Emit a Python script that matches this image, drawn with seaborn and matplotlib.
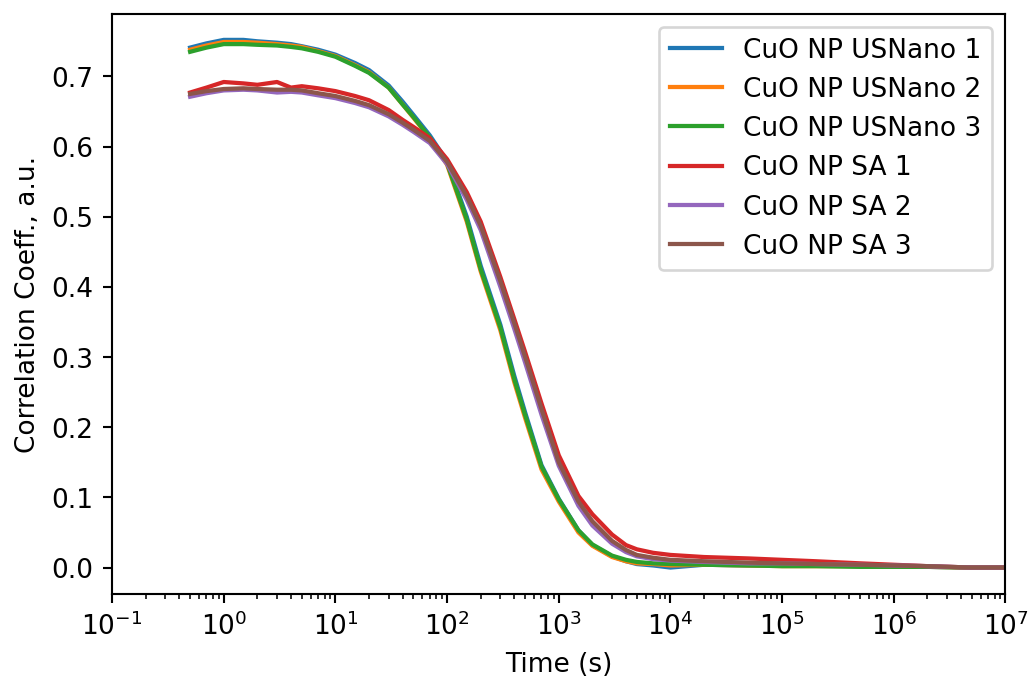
import matplotlib
matplotlib.use("Agg")
import matplotlib.pyplot as plt
import pandas as pd
import seaborn as sns

# Zeitpunkte (s) und Korrelationskoeffizienten
time_s = [0.5, 0.7, 1, 1.5, 2, 3, 4, 5, 7, 10, 15, 20, 30, 40, 50, 70,
          100, 150, 200, 300, 400, 500, 700, 1000, 1500, 2000, 3000, 4000,
          5000, 7000, 1e4, 2e4, 5e4, 1e5, 2e5, 5e5, 1e6, 2e6, 5e6, 1e7]

usnano_1 = [0.741, 0.747, 0.752, 0.752, 0.750, 0.748, 0.746, 0.743, 0.738, 0.731,
            0.719, 0.709, 0.687, 0.664, 0.645, 0.616, 0.579, 0.500, 0.430, 0.346,
            0.273, 0.221, 0.146, 0.098, 0.053, 0.032, 0.016, 0.009, 0.005, 0.003,
            0.000, 0.004, 0.003, 0.003, 0.003, 0.002, 0.002, 0.001, 0.000, 0.000]
usnano_2 = [0.738, 0.744, 0.749, 0.749, 0.748, 0.746, 0.744, 0.742, 0.736, 0.729,
            0.716, 0.706, 0.684, 0.660, 0.641, 0.612, 0.574, 0.493, 0.422, 0.338,
            0.264, 0.213, 0.140, 0.094, 0.050, 0.031, 0.015, 0.009, 0.006, 0.005,
            0.003, 0.004, 0.003, 0.002, 0.002, 0.002, 0.001, 0.001, 0.000, 0.000]
usnano_3 = [0.735, 0.741, 0.746, 0.746, 0.745, 0.744, 0.742, 0.740, 0.735, 0.728,
            0.715, 0.705, 0.684, 0.660, 0.642, 0.613, 0.576, 0.496, 0.425, 0.342,
            0.268, 0.217, 0.144, 0.097, 0.053, 0.033, 0.017, 0.011, 0.008, 0.006,
            0.005, 0.004, 0.003, 0.002, 0.002, 0.001, 0.001, 0.001, 0.000, 0.000]
sa_1 = [0.677, 0.684, 0.692, 0.690, 0.688, 0.692, 0.684, 0.686, 0.683, 0.679,
        0.672, 0.666, 0.652, 0.638, 0.628, 0.612, 0.582, 0.535, 0.493, 0.414,
        0.354, 0.307, 0.234, 0.160, 0.102, 0.076, 0.047, 0.032, 0.026, 0.021,
        0.018, 0.015, 0.013, 0.011, 0.009, 0.006, 0.004, 0.002, 0.000, 0.000]
sa_2 = [0.671, 0.676, 0.680, 0.681, 0.680, 0.677, 0.678, 0.677, 0.673, 0.669,
        0.662, 0.656, 0.643, 0.631, 0.621, 0.605, 0.575, 0.524, 0.481, 0.400,
        0.340, 0.292, 0.218, 0.145, 0.088, 0.060, 0.034, 0.022, 0.016, 0.012,
        0.010, 0.008, 0.006, 0.006, 0.005, 0.004, 0.003, 0.002, 0.000, 0.000]
sa_3 = [0.675, 0.679, 0.682, 0.683, 0.682, 0.681, 0.681, 0.680, 0.676, 0.672,
        0.665, 0.659, 0.646, 0.634, 0.624, 0.608, 0.578, 0.529, 0.487, 0.408,
        0.348, 0.300, 0.226, 0.150, 0.094, 0.066, 0.038, 0.025, 0.018, 0.014,
        0.011, 0.009, 0.007, 0.006, 0.005, 0.004, 0.003, 0.002, 0.000, 0.000]

labels = ["CuO NP USNano 1", "CuO NP USNano 2", "CuO NP USNano 3",
          "CuO NP SA 1", "CuO NP SA 2", "CuO NP SA 3"]
series = [usnano_1, usnano_2, usnano_3, sa_1, sa_2, sa_3]

# langes Format fuer seaborn
rows = []
for name, vals in zip(labels, series):
    for t, v in zip(time_s, vals):
        rows.append({"Time": t, "Corr": v, "Sample": name})
df = pd.DataFrame(rows)

fig = plt.figure(figsize=(1029.5 / 190, 678.5 / 190), dpi=190)
ax = fig.add_axes([112 / 1029, 84 / 678, 893 / 1029, 580 / 678])

sns.lineplot(data=df, x="Time", y="Corr", hue="Sample", hue_order=labels,
             palette="tab10", linewidth=1.6, ax=ax)

ax.set_xscale("log")
ax.set_xlim(1e-1, 1e7)
ax.set_ylim(-0.0376, 0.7896)
ax.set_xlabel("Time (s)")
ax.set_ylabel("Correlation Coeff., a.u.")
ax.legend(loc="upper right")

fig.savefig("out.png", dpi=190)
